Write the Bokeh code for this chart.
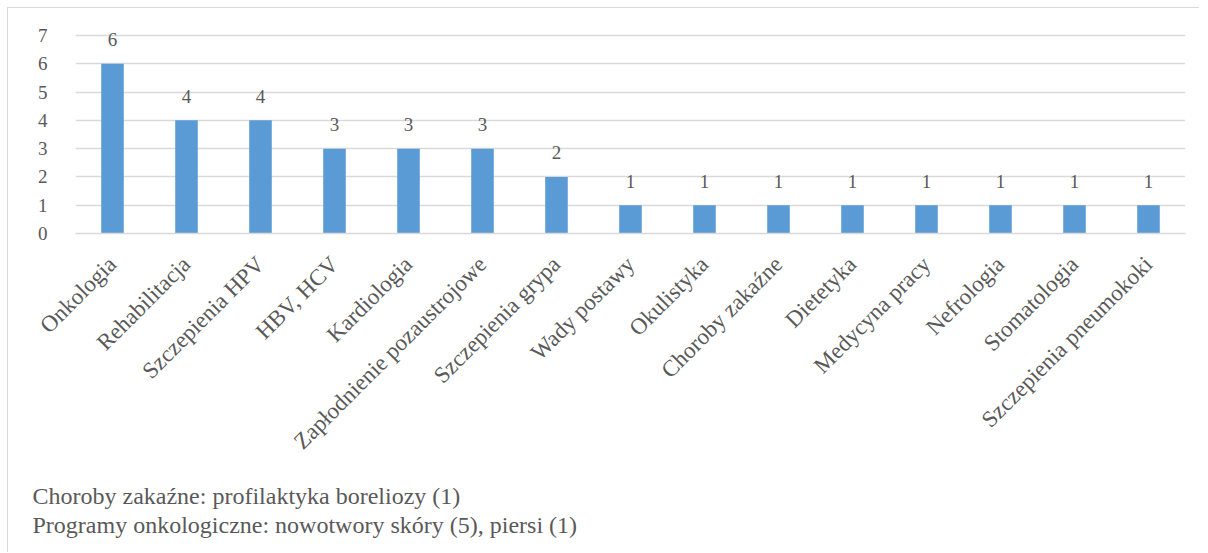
import math
from bokeh.plotting import figure
from bokeh.models import ColumnDataSource, Title, FactorRange, SingleIntervalTicker, Range1d
from bokeh.core.properties import value
from bokeh.embed import file_html
from bokeh.resources import INLINE

categories = ["Onkologia", "Rehabilitacja", "Szczepienia HPV", "HBV, HCV", "Kardiologia",
              "Zapłodnienie pozaustrojowe", "Szczepienia grypa", "Wady postawy", "Okulistyka",
              "Choroby zakaźne", "Dietetyka", "Medycyna pracy", "Nefrologia", "Stomatologia",
              "Szczepienia pneumokoki"]
counts = [6, 4, 4, 3, 3, 3, 2, 1, 1, 1, 1, 1, 1, 1, 1]
footnotes = ["Choroby zakaźne: profilaktyka boreliozy (1)",
             "Programy onkologiczne: nowotwory skóry (5), piersi (1)"]

FONT = "Liberation Serif"
TXT = "#595959"
GRID = "#d9d9d9"
BAR = "#5b9bd5"

src = ColumnDataSource(dict(cat=categories, val=counts, lab=[str(v) for v in counts]))

p = figure(x_range=FactorRange(*categories), y_range=Range1d(0, 7.14),
           width=1192, height=545, output_backend="svg", toolbar_location=None,
           min_border_left=67, min_border_right=15, min_border_top=23, min_border_bottom=318)
p.x_range.range_padding = 0
p.vbar(x="cat", top="val", width=0.305, source=src, color=BAR, line_color=None)
p.text(x="cat", y="val", text="lab", source=src, text_align="center", text_baseline="alphabetic",
       y_offset=-24, text_font=value(FONT), text_font_size="19px", text_color=TXT)

p.outline_line_color = None
p.background_fill_color = "white"
p.border_fill_color = "white"
p.xgrid.grid_line_color = None
p.ygrid.grid_line_color = GRID
p.ygrid.grid_line_width = 1.5
p.yaxis.ticker = SingleIntervalTicker(interval=1)
p.yaxis.axis_line_color = None
p.yaxis.major_tick_line_color = None
p.yaxis.minor_tick_line_color = None
p.yaxis.major_label_standoff = 22
p.yaxis.major_label_text_font = FONT
p.yaxis.major_label_text_font_size = "19px"
p.yaxis.major_label_text_color = TXT

p.xaxis.axis_line_color = GRID
p.xaxis.axis_line_width = 1.5
p.xaxis.major_tick_line_color = None
p.xaxis.minor_tick_line_color = None
p.xaxis.major_label_orientation = math.pi / 4
p.xaxis.major_label_standoff = 21
p.xaxis.major_label_text_font = FONT
p.xaxis.major_label_text_font_size = "23px"
p.xaxis.major_label_text_color = TXT

p.add_layout(Title(text="\n".join(footnotes), align="left", offset=-43, standoff=31,
                   text_font=FONT, text_font_size="24px", text_color=TXT,
                   text_line_height=1.1, text_font_style="normal"), "below")

p.styles = {"margin": "7px 0 -8px 7px", "border-left": "1px solid #d9d9d9",
            "border-top": "1px solid #d9d9d9"}

open("out.html", "w").write(file_html(p, INLINE))
